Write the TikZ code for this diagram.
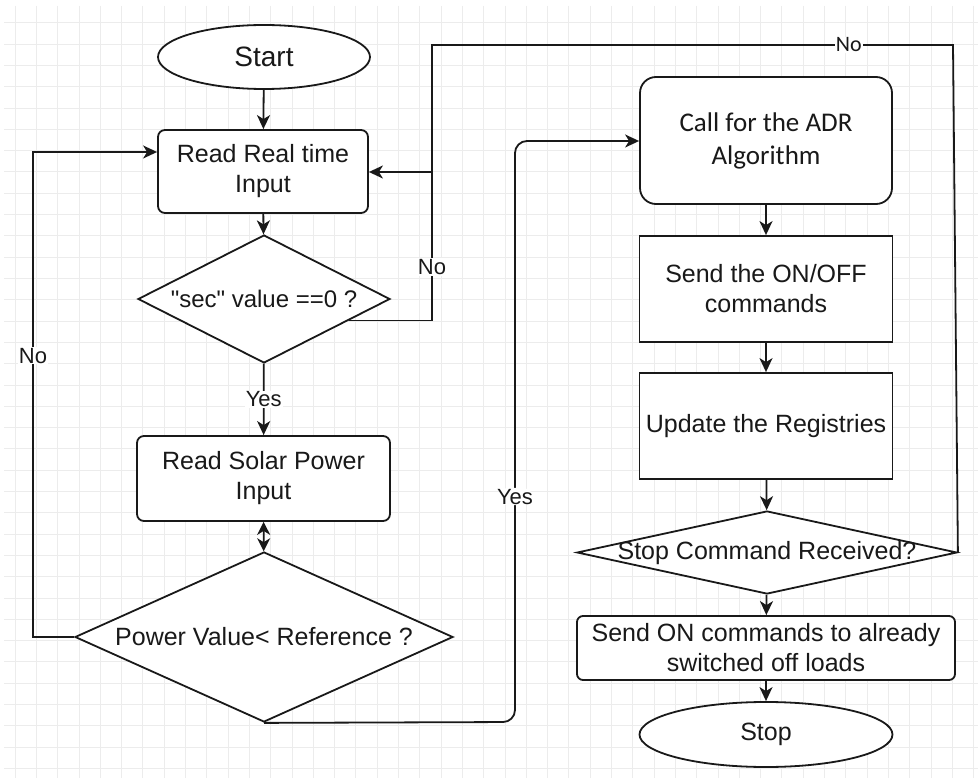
\documentclass[tikz,border=0pt]{standalone}
\usepackage{fontspec}
\setmainfont{Liberation Sans}
\newfontfamily\calfont{Carlito}
\usetikzlibrary{shapes.geometric,arrows.meta,calc}
\definecolor{gridc}{RGB}{236,236,236}
\definecolor{ink}{RGB}{25,25,25}
\begin{document}
\begin{tikzpicture}[x=1pt,y=-1pt,
  line width=1.8pt, draw=ink, text=ink,
  font=\fontsize{25}{30}\selectfont,
  arr/.style={-{Stealth[length=14pt,width=13pt,inset=4pt]}},
  dblarr/.style={{Stealth[length=13pt,width=13pt,inset=4pt]}-{Stealth[length=13pt,width=13pt,inset=4pt]}},
  rbox/.style={draw, fill=white, rounded corners=7pt, align=center, inner sep=0pt},
  sbox/.style={draw, fill=white, align=center, inner sep=0pt},
  dec/.style={draw, fill=white, diamond, inner sep=0pt},
  term/.style={draw, fill=white, ellipse, inner sep=0pt},
  lbl/.style={fill=white, inner sep=1pt, font=\fontsize{22}{24}\selectfont},
  txt/.style={inner sep=0pt, align=center}
]
\useasboundingbox (0,0) rectangle (978,778);
\fill[white] (0,0) rectangle (978,778);
% background grid
\foreach \i in {0,...,45} \draw[gridc, line width=0.8pt] ({15+21.3*\i},6) -- ({15+21.3*\i},778);
\foreach \j in {0,...,35} \draw[gridc, line width=0.8pt] (4,{22.8+21.3*\j}) -- (978,{22.8+21.3*\j});

% nodes
\node[term, minimum width=212, minimum height=64, font=\fontsize{28}{30}\selectfont] (start) at (264,57) {Start};
\node[rbox, minimum width=210, minimum height=83] (r1) at (263,171.5) {Read Real time\\Input};
\node[dec, minimum width=252, minimum height=128] (d1) at (264,299) {};
\node[txt, font=\fontsize{24}{28}\selectfont] (d1t) at (264,299) {\textquotedbl sec\textquotedbl{} value ==0 ?};
\node[rbox, minimum width=253, minimum height=85] (solar) at (263.5,478.5) {Read Solar Power\\Input};
\node[dec, minimum width=378, minimum height=170] (d2) at (264,637) {};
\node[txt] (d2t) at (264,637) {Power Value< Reference ?};

\node[rbox, rounded corners=16pt, minimum width=252, minimum height=127, font=\calfont\fontsize{27}{33}\selectfont] (adr) at (766,140.5) {Call for the ADR\\Algorithm};
\node[sbox, minimum width=253, minimum height=106] (onoff) at (766,289) {Send the ON/OFF\\commands};
\node[sbox, minimum width=253, minimum height=106] (upd) at (766,426) {Update the Registries};
\node[dec, minimum width=380, minimum height=83] (d3) at (767,552.5) {};
\node[txt] (d3t) at (767,553) {Stop Command Received?};
\node[rbox, rounded corners=6pt, minimum width=378, minimum height=64] (son) at (766,648) {Send ON commands to already\\switched off loads};
\node[term, minimum width=253, minimum height=65] (stop) at (766,734.5) {Stop};

% helper coordinates
\coordinate (d1out) at ($(d1.east)!0.33!(d1.south)$);
\coordinate (nojoin) at (432,172);
\coordinate (topright) at (953,45);
\coordinate (topleft) at (432,45);
\coordinate (leftbot) at (33,637);
\coordinate (lefttop) at (33,152);
\coordinate (yesbot) at (515,722);
\coordinate (yestop) at (515,141);

% connectors
\draw[arr] (start) -- (r1);
\draw[arr] (r1) -- (d1);
\draw[arr] (d1) -- node[lbl, pos=0.5] (yes1) {Yes} (solar);
\draw[dblarr] (solar) -- (d2);
\draw (d1out) -| node[lbl, pos=0.68] (no1) {No} (nojoin);
\draw[arr] (d3.east) -- (topright) -- node[lbl, pos=0.2, font=\calfont\fontsize{22}{24}\selectfont] (no3) {No} (topleft) -- (nojoin) -- (r1.east |- nojoin);
\draw[arr] (d2.west) -- (leftbot) -- node[lbl, pos=0.58] (no2) {No} (lefttop) -- (r1.west |- lefttop);
\draw[arr, rounded corners=12pt] (d2.south) -- (yesbot) -- node[lbl, pos=0.388] (yes2) {Yes} (yestop) -- (adr.west |- yestop);

\draw[arr] (adr) -- (onoff);
\draw[arr] (onoff) -- (upd);
\draw[arr] (upd) -- (d3);
\draw[arr] (d3) -- (son);
\draw[arr] (son) -- (stop);
\end{tikzpicture}
\end{document}
